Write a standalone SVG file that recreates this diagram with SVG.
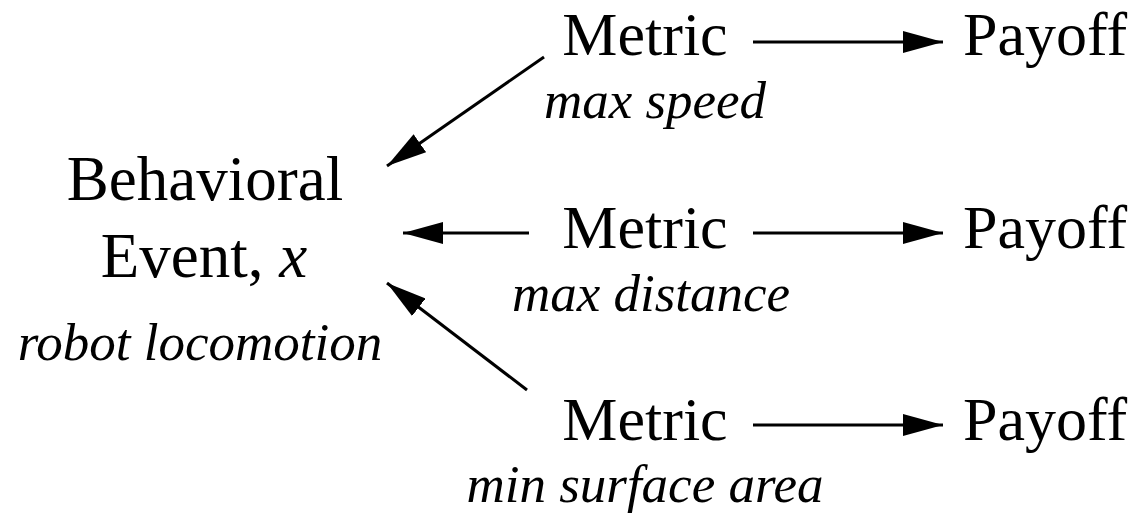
<svg xmlns="http://www.w3.org/2000/svg" width="1139" height="513" viewBox="0 0 1139 513">
<defs>
<style>
.t{font-family:"Liberation Serif","Times New Roman",serif;font-size:62px;fill:#000;text-anchor:middle}
.b{font-size:63px}
.i{font-family:"Liberation Serif","Times New Roman",serif;font-size:53px;font-style:italic;fill:#000;text-anchor:middle}
.c{stroke:#000;stroke-width:3;fill:none;marker-end:url(#ah)}
</style>
<marker id="ah" markerUnits="userSpaceOnUse" markerWidth="40" markerHeight="22" refX="40" refY="11" orient="auto">
<path d="M0,0 L40,11 L0,22 z" fill="#000"/>
</marker>
</defs>
<rect width="1139" height="513" fill="#fff"/>
<g id="event">
<text class="t b" x="205" y="200">Behavioral</text>
<text class="t b" x="204" y="277">Event, <tspan font-style="italic">x</tspan></text>
<text class="i" x="200" y="360">robot locomotion</text>
</g>
<g id="metric1">
<text class="t" x="645" y="55">Metric</text>
<text class="i" x="655" y="118">max speed</text>
</g>
<g id="metric2">
<text class="t" x="645" y="248">Metric</text>
<text class="i" x="651" y="311">max distance</text>
</g>
<g id="metric3">
<text class="t" x="645" y="440">Metric</text>
<text class="i" x="645" y="502">min surface area</text>
</g>
<g id="payoff1"><text class="t" x="1045" y="55">Payoff</text></g>
<g id="payoff2"><text class="t" x="1045" y="248">Payoff</text></g>
<g id="payoff3"><text class="t" x="1045" y="440">Payoff</text></g>
<g id="connectors">
<line class="c" x1="544" y1="57" x2="387" y2="166"/>
<line class="c" x1="529" y1="233" x2="403" y2="233"/>
<line class="c" x1="527" y1="390" x2="387" y2="283"/>
<line class="c" x1="753" y1="42" x2="943" y2="42"/>
<line class="c" x1="753" y1="233" x2="943" y2="233"/>
<line class="c" x1="753" y1="425" x2="943" y2="425"/>
</g>
</svg>
